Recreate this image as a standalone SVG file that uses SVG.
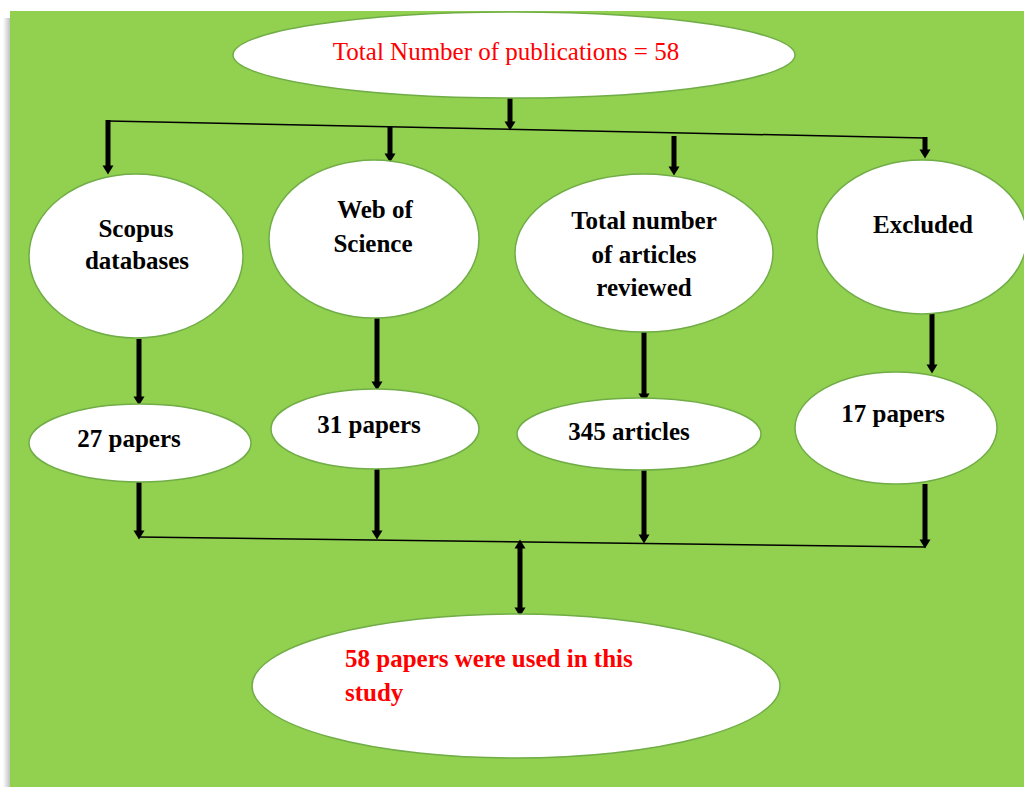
<svg xmlns="http://www.w3.org/2000/svg" width="1024" height="787" viewBox="0 0 1024 787">
<defs>
<marker id="ah" markerUnits="userSpaceOnUse" markerWidth="12" markerHeight="12" viewBox="0 -6 10 12" refX="0.5" refY="0" orient="auto-start-reverse">
<path d="M0,-5.5 L9,0 L0,5.5 Z" fill="#000000"/>
</marker>
<linearGradient id="sh" x1="0" y1="0" x2="1" y2="0">
<stop offset="0" stop-color="#ffffff"/>
<stop offset="1" stop-color="#b8b8b8"/>
</linearGradient>
</defs>
<rect x="0" y="0" width="1024" height="787" fill="#ffffff"/>
<rect x="3" y="18" width="8" height="769" fill="url(#sh)"/>
<rect x="10" y="11" width="1014" height="776" fill="#92D050"/>

<g id="connectors" stroke="#000000" fill="none">
<line stroke-width="5" x1="510" y1="97" x2="510" y2="122" marker-end="url(#ah)"/>
<line stroke-width="1.5" x1="108" y1="121" x2="925" y2="138"/>
<line stroke-width="5" x1="108" y1="120" x2="108" y2="166" marker-end="url(#ah)"/>
<line stroke-width="5" x1="390" y1="127" x2="390" y2="154" marker-end="url(#ah)"/>
<line stroke-width="5" x1="674" y1="136" x2="674" y2="167" marker-end="url(#ah)"/>
<line stroke-width="5" x1="925" y1="137" x2="925" y2="150" marker-end="url(#ah)"/>
<line stroke-width="5" x1="139" y1="339" x2="139" y2="397" marker-end="url(#ah)"/>
<line stroke-width="5" x1="377" y1="318" x2="377" y2="382" marker-end="url(#ah)"/>
<line stroke-width="5" x1="644" y1="331" x2="644" y2="394" marker-end="url(#ah)"/>
<line stroke-width="5" x1="932" y1="313" x2="932" y2="365" marker-end="url(#ah)"/>
<line stroke-width="5" x1="139" y1="482" x2="139" y2="531" marker-end="url(#ah)"/>
<line stroke-width="5" x1="377" y1="469" x2="377" y2="531" marker-end="url(#ah)"/>
<line stroke-width="5" x1="644" y1="470" x2="644" y2="535" marker-end="url(#ah)"/>
<line stroke-width="5" x1="925" y1="484" x2="925" y2="540" marker-end="url(#ah)"/>
<line stroke-width="1.5" x1="139" y1="537" x2="925" y2="547"/>
<line stroke-width="5" x1="520" y1="548" x2="520" y2="608" marker-start="url(#ah)" marker-end="url(#ah)"/>
</g>

<g id="node-total">
<ellipse fill="#ffffff" stroke="#70AD47" stroke-width="1.5" cx="514" cy="55" rx="281" ry="43"/>
<text x="506" y="60" font-family="Liberation Serif" font-size="25" fill="#FF0000" text-anchor="middle">Total Number of publications = 58</text>
</g>
<g id="node-scopus">
<ellipse fill="#ffffff" stroke="#70AD47" stroke-width="1.5" cx="136" cy="256" rx="107" ry="82"/>
<text x="136" y="237" font-family="Liberation Serif" font-weight="bold" font-size="25" text-anchor="middle">Scopus</text>
<text x="137" y="269" font-family="Liberation Serif" font-weight="bold" font-size="25" text-anchor="middle">databases</text>
</g>
<g id="node-wos">
<ellipse fill="#ffffff" stroke="#70AD47" stroke-width="1.5" cx="374" cy="239" rx="105" ry="79"/>
<text x="375" y="218" font-family="Liberation Serif" font-weight="bold" font-size="25" text-anchor="middle">Web of</text>
<text x="373" y="252" font-family="Liberation Serif" font-weight="bold" font-size="25" text-anchor="middle">Science</text>
</g>
<g id="node-reviewed">
<ellipse fill="#ffffff" stroke="#70AD47" stroke-width="1.5" cx="644" cy="253" rx="129" ry="79"/>
<text x="644" y="229" font-family="Liberation Serif" font-weight="bold" font-size="25" text-anchor="middle">Total number</text>
<text x="644" y="263" font-family="Liberation Serif" font-weight="bold" font-size="25" text-anchor="middle">of articles</text>
<text x="644" y="296" font-family="Liberation Serif" font-weight="bold" font-size="25" text-anchor="middle">reviewed</text>
</g>
<g id="node-excluded">
<ellipse fill="#ffffff" stroke="#70AD47" stroke-width="1.5" cx="922" cy="237" rx="105" ry="77"/>
<text x="923" y="233" font-family="Liberation Serif" font-weight="bold" font-size="25" text-anchor="middle">Excluded</text>
</g>
<g id="node-27">
<ellipse fill="#ffffff" stroke="#70AD47" stroke-width="1.5" cx="140" cy="443" rx="111" ry="39"/>
<text x="129" y="447" font-family="Liberation Serif" font-weight="bold" font-size="25" text-anchor="middle">27 papers</text>
</g>
<g id="node-31">
<ellipse fill="#ffffff" stroke="#70AD47" stroke-width="1.5" cx="375" cy="429" rx="104" ry="40"/>
<text x="369" y="433" font-family="Liberation Serif" font-weight="bold" font-size="25" text-anchor="middle">31 papers</text>
</g>
<g id="node-345">
<ellipse fill="#ffffff" stroke="#70AD47" stroke-width="1.5" cx="639" cy="434" rx="122" ry="36"/>
<text x="629" y="440" font-family="Liberation Serif" font-weight="bold" font-size="25" text-anchor="middle">345 articles</text>
</g>
<g id="node-17">
<ellipse fill="#ffffff" stroke="#70AD47" stroke-width="1.5" cx="896" cy="428" rx="101" ry="56"/>
<text x="893" y="422" font-family="Liberation Serif" font-weight="bold" font-size="25" text-anchor="middle">17 papers</text>
</g>
<g id="node-final">
<ellipse fill="#ffffff" stroke="#70AD47" stroke-width="1.5" cx="516" cy="686" rx="264" ry="72"/>
<text x="345" y="667" font-family="Liberation Serif" font-weight="bold" font-size="25" fill="#FF0000">58 papers were used in this</text>
<text x="345" y="701" font-family="Liberation Serif" font-weight="bold" font-size="25" fill="#FF0000">study</text>
</g>
</svg>
